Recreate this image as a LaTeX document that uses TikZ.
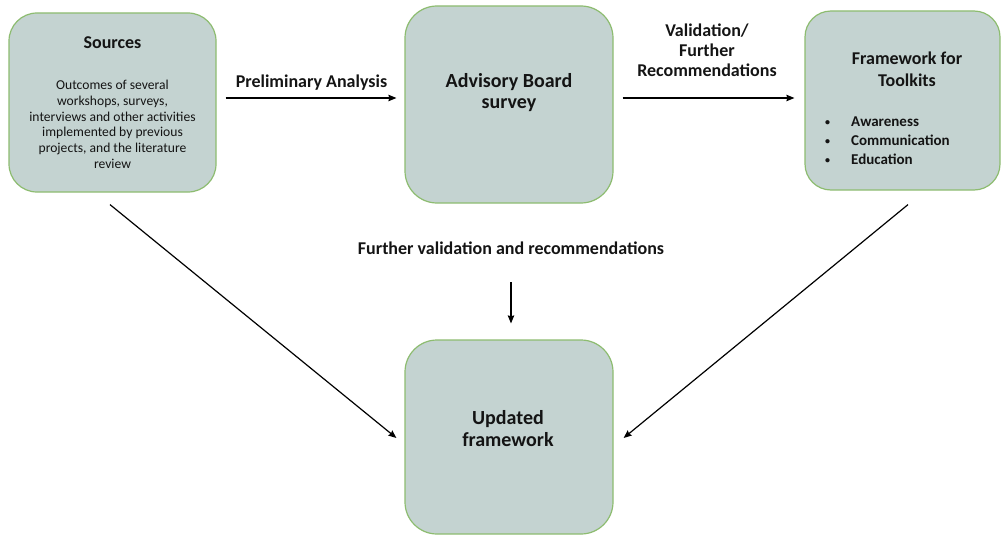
\documentclass[tikz,border=0pt]{standalone}
\usepackage{fontspec}
\setmainfont{Carlito}
\usetikzlibrary{arrows.meta}
\definecolor{boxfill}{RGB}{196,211,209}
\definecolor{boxline}{RGB}{141,188,112}
\definecolor{txt}{RGB}{20,20,20}
\newcommand{\smallbul}{\makebox[26pt][l]{\raisebox{1pt}{\fontsize{10}{10}\selectfont •}}}
\tikzset{
  stagebox/.style={draw=boxline, line width=1.2pt, fill=boxfill, inner sep=0pt},
  lbl/.style={inner sep=0pt, text=txt, font=\bfseries\fontsize{18}{21}\selectfont, align=center},
  arr/.style={line width=1.2pt, -{Stealth[length=8pt,width=6.5pt,inset=1pt]}}
}
\begin{document}
\begin{tikzpicture}[x=1pt,y=-1pt]
\useasboundingbox (0,0) rectangle (1001,535);
% boxes
\node[stagebox, rounded corners=28pt, minimum width=207pt, minimum height=179pt] (src) at (112.5,102.5) {};
\node[stagebox, rounded corners=32pt, minimum width=208pt, minimum height=197pt] (adv) at (509,104.5) {};
\node[stagebox, rounded corners=26pt, minimum width=195pt, minimum height=179pt] (fw) at (902.5,100.5) {};
\node[stagebox, rounded corners=32pt, minimum width=208pt, minimum height=194pt] (upd) at (509,437) {};
% box texts
\node[lbl, anchor=north] (srct) at (112.5,36) {Sources};
\node[inner sep=0pt, text=txt, anchor=north, align=center, font=\fontsize{13.6}{15.7}\selectfont] (srcb) at (112.5,80)
  {Outcomes of several\\workshops, surveys,\\interviews and other activities\\implemented by previous\\projects, and the literature\\review};
\node[lbl, anchor=north, font=\bfseries\fontsize{20}{21}\selectfont] (advt) at (509,73) {Advisory Board\\survey};
\node[lbl, anchor=north, font=\bfseries\fontsize{18}{22}\selectfont] (fwt) at (907,52) {Framework for\\Toolkits};
\node[inner sep=0pt, text=txt, anchor=north west, align=left, font=\bfseries\fontsize{15}{19}\selectfont] (fwb) at (825,117)
  {\smallbul Awareness\\\smallbul Communication\\\smallbul Education};
\node[lbl, anchor=north, font=\bfseries\fontsize{20}{22}\selectfont] (updt) at (508,410) {Updated\\framework};
% connector labels
\node[lbl, anchor=north] (prel) at (311.5,75) {Preliminary Analysis};
\node[lbl, anchor=north, font=\bfseries\fontsize{18}{20}\selectfont] (val) at (707,24) {Validation/\\Further\\Recommendations};
\node[lbl, anchor=north] (fv) at (511,242) {Further validation and recommendations};
% connectors
\draw[arr] ([shift={(9,-4.5)}]src.east) -- ([shift={(-8,-4.5)}]src.east -| adv.west);
\draw[arr] ([shift={(9,-6.5)}]adv.east) -- ([shift={(-10,-6.5)}]adv.east -| fw.west);
\draw[arr] ([shift={(-2.5,12)}]src.south) -- ([shift={(-8,1)}]upd.west);
\draw[arr] ([shift={(5.5,14)}]fw.south) -- ([shift={(10,1)}]upd.east);
\draw[arr] ([shift={(2,-57)}]upd.north) -- ([shift={(2,-16)}]upd.north);
\end{tikzpicture}
\end{document}
